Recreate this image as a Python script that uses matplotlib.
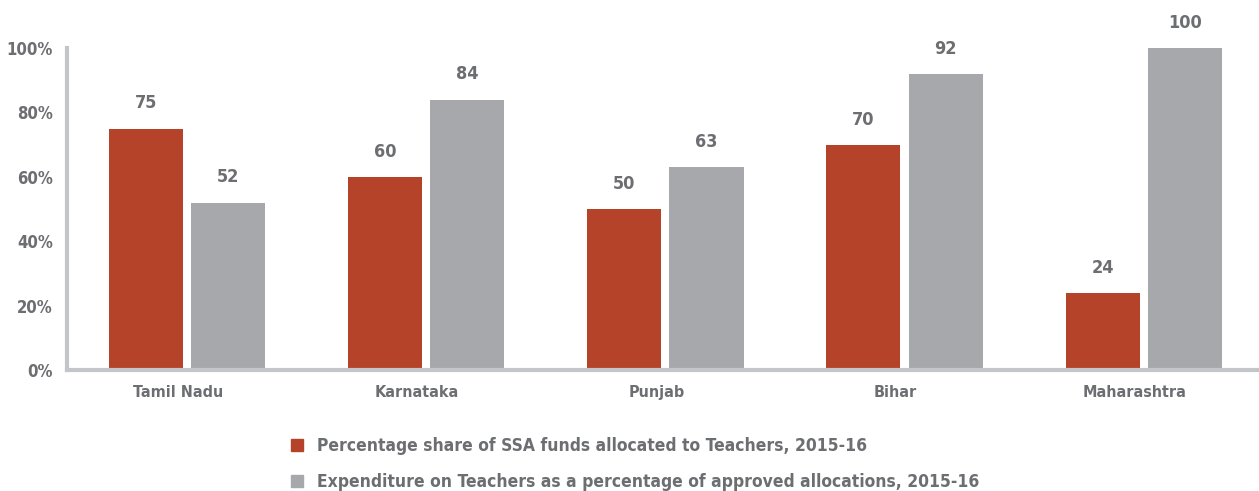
import numpy as np
import matplotlib.pyplot as plt
from matplotlib.patches import Patch

states = ["Tamil Nadu", "Karnataka", "Punjab", "Bihar", "Maharashtra"]
share_teachers = [75, 60, 50, 70, 24]
expenditure_teachers = [52, 84, 63, 92, 100]
legend_labels = ["Percentage share of SSA funds allocated to Teachers, 2015-16",
                 "Expenditure on Teachers as a percentage of approved allocations, 2015-16"]

red = "#b5432a"
grey = "#a7a8ac"
txt = "#6d6e71"
plt.rcParams['font.family'] = ['DejaVu Sans']
plt.rcParams['font.stretch'] = 'condensed'

fig = plt.figure(figsize=(12.59, 4.91), dpi=100)
ax = fig.add_axes([0.0532, 0.2464, 0.9468, 0.6558])

x = np.arange(len(states))
w = 0.31
b1 = ax.bar(x - 0.134, share_teachers, w, color=red)
b2 = ax.bar(x + 0.21, expenditure_teachers, w, color=grey)

for bars in (b1, b2):
    for r in bars:
        ax.text(r.get_x() + r.get_width() / 2, r.get_height() + 5, f"{r.get_height():.0f}",
                ha="center", va="bottom", fontsize=13, fontweight="bold", color=txt)

ax.set_xlim(-0.464, 4.52)
ax.set_ylim(0, 100)
ax.set_yticks(range(0, 101, 20))
ax.set_yticklabels([f"{v}%" for v in range(0, 101, 20)])
ax.set_xticks(x)
ax.set_xticklabels(states)
ax.tick_params(length=0, labelsize=11.5, pad=11)
ax.tick_params(axis="y", labelsize=12, pad=10)
for lab in ax.get_yticklabels() + ax.get_xticklabels():
    lab.set_fontweight("bold")
    lab.set_color(txt)

for s in ("top", "right"):
    ax.spines[s].set_visible(False)
for s in ("left", "bottom"):
    ax.spines[s].set_color("#c4c5c8")
    ax.spines[s].set_linewidth(3)

handles = [Patch(color=red), Patch(color=grey)]
leg = fig.legend(handles, legend_labels, loc="upper left", bbox_to_anchor=(0.2255, 0.124),
                 frameon=False, fontsize=12.5, handlelength=0.7, handleheight=0.7,
                 handletextpad=0.8, labelspacing=1.05, borderaxespad=0)
for t in leg.get_texts():
    t.set_color(txt)
    t.set_fontweight("bold")

fig.savefig("out.png", dpi=100)
